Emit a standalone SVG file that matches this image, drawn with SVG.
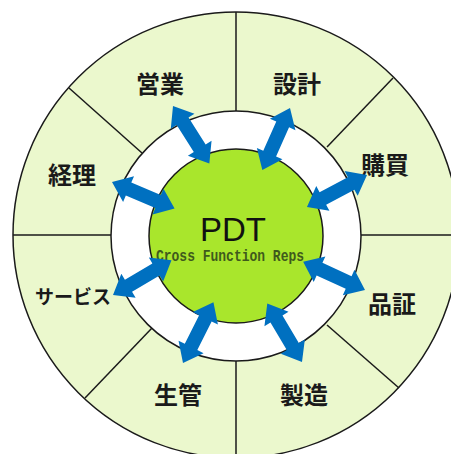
<svg xmlns="http://www.w3.org/2000/svg" width="451" height="454" viewBox="0 0 451 454">
<defs>
<style>
.line{stroke:#1a1a1a;stroke-width:1.5;fill:none}
.lbl{font-family:"Noto Sans CJK JP","Noto Sans CJK SC",sans-serif;font-weight:bold;font-size:24px;fill:#1a1a1a;text-anchor:middle;dominant-baseline:central}
.arrow{fill:#0070C0}
</style>
<path id="dbl" d="M0,0 L18,-14 L18,-7 L50,-7 L50,-14 L68,0 L50,14 L50,7 L18,7 L18,14 Z"/>
</defs>
<rect width="451" height="454" fill="#ffffff"/>
<g id="background">
<circle cx="236" cy="235" r="223" fill="#EBF8CD" stroke="#1a1a1a" stroke-width="1.5"/>
<line class="line" x1="236" y1="12" x2="236" y2="111"/>
<line class="line" x1="236" y1="360" x2="236" y2="460"/>
<line class="line" x1="13" y1="235" x2="111" y2="235"/>
<line class="line" x1="361" y1="235" x2="460" y2="235"/>
<line class="line" x1="327" y1="147" x2="393" y2="78"/>
<line class="line" x1="142" y1="153" x2="69" y2="88"/>
<line class="line" x1="152" y1="328" x2="85" y2="398"/>
<line class="line" x1="327" y1="325" x2="399" y2="388"/>
<circle cx="236" cy="236" r="125" fill="#ffffff" stroke="#1a1a1a" stroke-width="1.5"/>
</g>
<g id="sales"><text class="lbl" x="160" y="82">営業</text></g>
<g id="design"><text class="lbl" x="297" y="82">設計</text></g>
<g id="purchasing"><text class="lbl" x="385" y="163">購買</text></g>
<g id="qa"><text class="lbl" x="392" y="302">品証</text></g>
<g id="manufacturing"><text class="lbl" x="304" y="393">製造</text></g>
<g id="production-control"><text class="lbl" x="178" y="393">生管</text></g>
<g id="service"><text class="lbl" x="73" y="295" style="font-size:19px">サービス</text></g>
<g id="accounting"><text class="lbl" x="72" y="173">経理</text></g>
<g id="pdt">
<circle cx="236" cy="236" r="87" fill="#A9E62C" stroke="#1a1a1a" stroke-width="1.5"/>
<text x="233" y="241" font-family="Liberation Sans, Arial, sans-serif" font-size="33" fill="#111" text-anchor="middle">PDT</text>
<text x="230" y="261" font-family="Liberation Mono, monospace" font-size="16" font-weight="bold" fill="#3F5A1C" text-anchor="middle" textLength="148" lengthAdjust="spacingAndGlyphs">Cross Function Reps</text>
</g>
<g id="connectors" class="arrow">
<use href="#dbl" transform="translate(173,106) rotate(57.7)"/>
<use href="#dbl" transform="translate(290,108) rotate(114)"/>
<use href="#dbl" transform="translate(367,175) rotate(152)"/>
<use href="#dbl" transform="translate(365,290) rotate(204.6)"/>
<use href="#dbl" transform="translate(302,362) rotate(239.3)"/>
<use href="#dbl" transform="translate(183,363) rotate(-63.4)"/>
<use href="#dbl" transform="translate(113,295) rotate(-30.7)"/>
<use href="#dbl" transform="translate(112,182) rotate(23)"/>
</g>
</svg>
